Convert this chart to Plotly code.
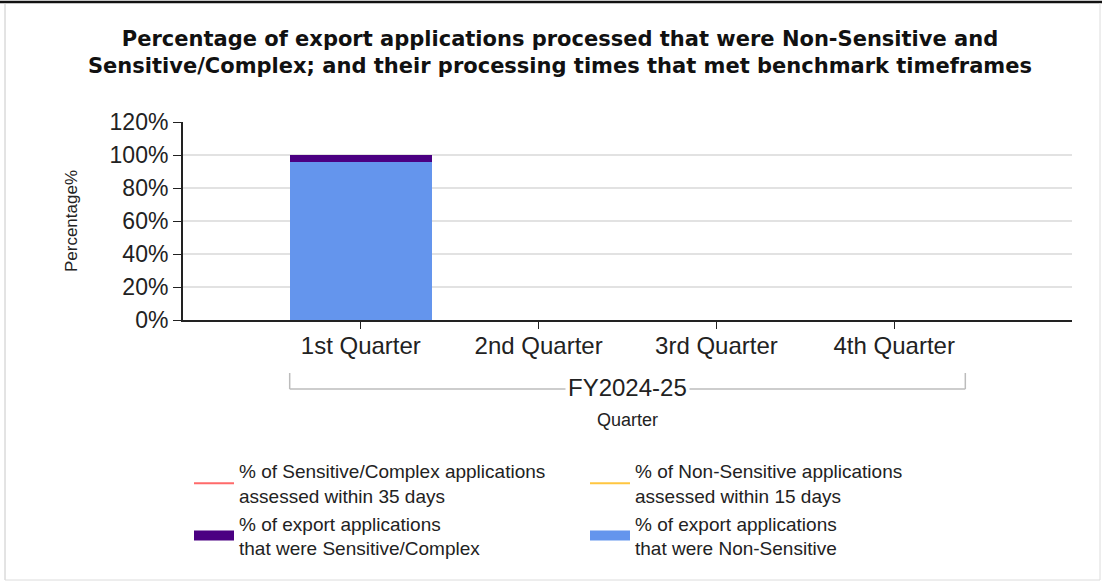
import plotly.graph_objects as go

quarters = ["1st Quarter", "2nd Quarter", "3rd Quarter", "4th Quarter"]
fiscal_year = "FY2024-25"
pct_non_sensitive = [95.5, None, None, None]
pct_sensitive = [4.5, None, None, None]
pct_sens_35_days = [None, None, None, None]
pct_nonsens_15_days = [None, None, None, None]
y_ticks = [0, 20, 40, 60, 80, 100, 120]
y_tick_labels = ["0%", "20%", "40%", "60%", "80%", "100%", "120%"]

FONT = "Liberation Sans, Arial, sans-serif"
TFONT = "DejaVu Sans, Liberation Sans, Arial, sans-serif"
W, H = 1102, 584
ML, MR, MT, MB = 183, 30, 122, 264
pw = W - ML - MR
ph = H - MT - MB

def px_x(p):
    return (p - ML) / pw

def px_y(p):
    return (H - MB - p) / ph

xi = list(range(len(quarters)))
NAME_NS = "% of export applications<br>that were Non-Sensitive"
NAME_S = "% of export applications<br>that were Sensitive/Complex"
C_NS, C_S = "#6495ED", "#4B0082"

fig = go.Figure()
fig.add_trace(go.Bar(x=xi, y=pct_non_sensitive, name=NAME_NS, showlegend=False,
                     marker=dict(color=C_NS, line=dict(width=0)), width=0.8))
fig.add_trace(go.Bar(x=xi, y=pct_sensitive, name=NAME_S, showlegend=False,
                     marker=dict(color=C_S, line=dict(width=0)), width=0.8))
fig.add_trace(go.Scatter(x=xi, y=pct_sens_35_days, mode="lines", name="% of Sensitive/Complex applications<br>assessed within 35 days",
                         line=dict(color="#FF6A6A", width=2), legendrank=1))
fig.add_trace(go.Scatter(x=xi, y=pct_nonsens_15_days, mode="lines", name="% of Non-Sensitive applications<br>assessed within 15 days",
                         line=dict(color="#FFC640", width=2), legendrank=2))
# legend swatches for the stacked bars
fig.add_trace(go.Scatter(x=xi, y=[None] * len(xi), mode="lines", name=NAME_S,
                         line=dict(color=C_S, width=16), legendrank=3, hoverinfo="skip"))
fig.add_trace(go.Scatter(x=xi, y=[None] * len(xi), mode="lines", name=NAME_NS,
                         line=dict(color=C_NS, width=16), legendrank=4, hoverinfo="skip"))

BR = "#bcbcbc"
shapes = [
    dict(type="line", xref="x", yref="paper", x0=-0.4, x1=-0.4, y0=px_y(373), y1=px_y(389), line=dict(color=BR, width=1.5)),
    dict(type="line", xref="x", yref="paper", x0=3.4, x1=3.4, y0=px_y(373), y1=px_y(389), line=dict(color=BR, width=1.5)),
    dict(type="line", xref="x", yref="paper", x0=-0.4, x1=3.4, y0=px_y(389), y1=px_y(389), line=dict(color=BR, width=1.5)),
    # frame
    dict(type="line", xref="paper", yref="paper", x0=px_x(0), x1=px_x(W), y0=px_y(2), y1=px_y(2), line=dict(color="#111", width=2.5)),
    dict(type="line", xref="paper", yref="paper", x0=px_x(5), x1=px_x(5), y0=px_y(3), y1=px_y(580), line=dict(color="#c8c8c8", width=1)),
    dict(type="line", xref="paper", yref="paper", x0=px_x(5), x1=px_x(1100), y0=px_y(580), y1=px_y(580), line=dict(color="#dcdcdc", width=1)),
    dict(type="line", xref="paper", yref="paper", x0=px_x(1100), x1=px_x(1100), y0=px_y(3), y1=px_y(580), line=dict(color="#dcdcdc", width=1)),
]

annotations = [
    dict(text=fiscal_year, xref="x", yref="paper", x=1.5, y=px_y(387), showarrow=False,
         font=dict(size=24, color="#222", family=FONT), bgcolor="white", borderpad=2,
         xanchor="center", yanchor="middle"),
    dict(text="Quarter", xref="x", yref="paper", x=1.5, y=px_y(420), showarrow=False,
         font=dict(size=18, color="#222", family=FONT), xanchor="center", yanchor="middle"),
]

fig.update_layout(
    width=W, height=H, autosize=False,
    margin=dict(l=ML, r=MR, t=MT, b=MB),
    paper_bgcolor="white", plot_bgcolor="white",
    font=dict(family=FONT, color="#222"),
    barmode="stack",
    title=dict(text="<b>Percentage of export applications processed that were Non-Sensitive and<br>Sensitive/Complex; and their processing times that met benchmark timeframes</b>",
               x=560 / W, xanchor="center", y=1 - 46 / H, yanchor="middle",
               font=dict(size=21, color="#111", family=TFONT)),
    xaxis=dict(range=[-1, 4], tickmode="array", tickvals=xi, ticktext=quarters,
               showline=True, linecolor="#222", linewidth=2, ticks="outside", ticklen=7,
               ticklabelstandoff=-4,
               tickcolor="#222", tickfont=dict(size=24, color="#222"), showgrid=False, zeroline=False),
    yaxis=dict(range=[0, 120], tickmode="array", tickvals=y_ticks, ticktext=y_tick_labels,
               showline=True, linecolor="#222", linewidth=2, ticks="outside", ticklen=8,
               tickcolor="#222", tickfont=dict(size=23, color="#222"),
               showgrid=True, gridcolor="#e2e2e2", gridwidth=2, zeroline=False,
               title=dict(text="Percentage%", font=dict(size=17, color="#222"), standoff=28)),
    legend=dict(orientation="h", xref="container", x=189 / W, xanchor="left",
                yref="container", y=1 - 452 / H, yanchor="top",
                entrywidth=341, entrywidthmode="pixels",
                font=dict(size=19, color="#222", family=FONT), traceorder="normal",
                tracegroupgap=0, itemwidth=40),
    shapes=shapes,
    annotations=annotations,
)

fig.write_html("out.html", config={"displayModeBar": False},
               post_script="document.body.style.margin='0';")
